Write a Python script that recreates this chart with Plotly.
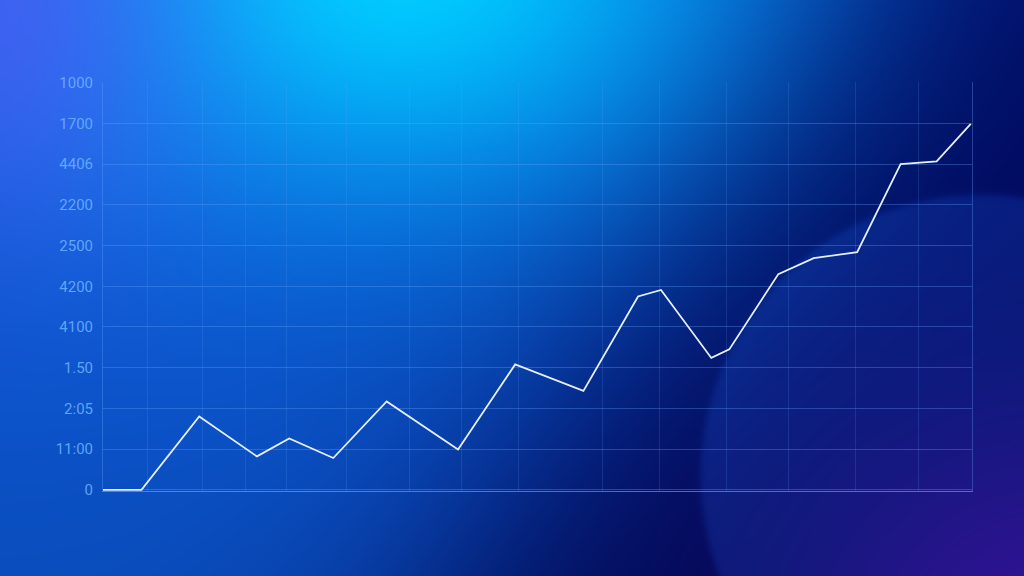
import numpy as np
import plotly.graph_objects as go

# ---------------- data ----------------
x_vals = [0, 0.62, 1.55, 2.48, 3.00, 3.71, 4.57, 5.72, 6.64, 7.74,
          8.62, 8.99, 9.80, 10.09, 10.88, 11.45, 12.15, 12.85, 13.43, 13.98]
y_vals = [0, 0, 1.80, 0.82, 1.26, 0.78, 2.17, 0.99, 3.08, 2.43,
          4.75, 4.91, 3.24, 3.45, 5.30, 5.69, 5.84, 8.00, 8.07, 8.99]
x_grid_vals = [0.72, 1.61, 2.30, 2.95, 3.92, 4.93, 5.78, 6.69,
               8.04, 8.97, 10.04, 11.04, 12.12, 13.13]
y_tick_vals = [0, 1, 2, 3, 4, 5, 6, 7, 8, 9, 10]
y_tick_text = ["0", "11:00", "2:05", "1.50", "4100", "4200",
               "2500", "2200", "4406", "1700", "1000"]

# ---------------- background (styling only) ----------------
W, H = 512, 288
sx = 1024 / W
xs = (np.arange(W) + 0.5) * sx
ys = (np.arange(H) + 0.5) * sx
X, Y = np.meshgrid(xs, ys)

def sig(t):
    return 1 / (1 + np.exp(-t))

blue = np.array([12, 92, 224], float)
navy = np.array([1, 9, 98], float)
d = sig((X + 0.6 * Y - 800) / 90)[..., None]
img = blue * (1 - d) + navy * d
img *= (1 - 0.15 * (Y / 576))[..., None]

g = np.exp(-(((X - 390) / 330) ** 2 + ((Y + 40) / 230) ** 2))[..., None]
img = img * (1 - g) + np.array([0, 205, 255], float) * g

h = 0.75 * np.exp(-((X / 200) ** 2 + (Y / 240) ** 2))[..., None]
img = img * (1 - h) + np.array([78, 92, 245], float) * h

p = 0.9 * np.exp(-(((X - 1060) / 260) ** 2 + ((Y - 640) / 220) ** 2))[..., None]
img = img * (1 - p) + np.array([48, 0, 122], float) * p

dist = np.sqrt((X - 982) ** 2 + (Y - 476) ** 2)
m = sig((281 - dist) / 2)[..., None]
img = img + np.array([6, 18, 30], float) * m

img = np.clip(img, 0, 255).astype(np.uint8)

fig = go.Figure()
fig.add_trace(go.Image(z=img.tolist(), x0=0, dx=1, y0=0, dy=1,
                       xaxis="x", yaxis="y", hoverinfo="skip"))

fig.add_trace(go.Scatter(
    x=x_vals, y=y_vals, mode="lines",
    line=dict(color="#e6efff", width=1.8),
    xaxis="x2", yaxis="y2", hoverinfo="skip", showlegend=False))

grid_h = "rgba(100,165,255,0.33)"
grid_v = "rgba(100,165,255,0.17)"

fig.update_layout(
    width=1024, height=576,
    margin=dict(l=0, r=0, t=0, b=0, pad=0, autoexpand=False),
    paper_bgcolor="#000a60",
    plot_bgcolor="rgba(0,0,0,0)",
    showlegend=False,
    xaxis=dict(domain=[0, 1], range=[-0.5, W - 0.5], visible=False, automargin=False,
               showgrid=False, zeroline=False, fixedrange=True),
    yaxis=dict(domain=[0, 1], range=[H - 0.5, -0.5], visible=False, automargin=False,
               showgrid=False, zeroline=False, scaleanchor=False, fixedrange=True),
    xaxis2=dict(domain=[103 / 1024, 972 / 1024], anchor="y2", automargin=False,
                range=[0, 14], tickmode="array", tickvals=x_grid_vals,
                showticklabels=False, ticks="",
                showgrid=True, gridcolor=grid_v, gridwidth=1,
                zeroline=False, showline=True,
                linecolor="rgba(110,170,255,0.6)", linewidth=1),
    yaxis2=dict(domain=[1 - 491 / 576, 1 - 82 / 576], anchor="x2", automargin=False,
                range=[-0.03, 10.02],
                tickmode="array", tickvals=y_tick_vals, ticktext=y_tick_text,
                ticks="", ticklabelstandoff=6,
                tickfont=dict(family="Liberation Sans Narrow, Roboto, sans-serif",
                              size=15, color="rgba(110,180,255,0.85)"),
                showgrid=True, gridcolor=grid_h, gridwidth=1,
                zeroline=False, showline=True, mirror=True,
                linecolor=grid_h, linewidth=1),
)

fig.write_html(
    "out.html",
    config={"displayModeBar": False},
    post_script="document.body.style.margin='0';document.body.style.overflow='hidden';",
)
